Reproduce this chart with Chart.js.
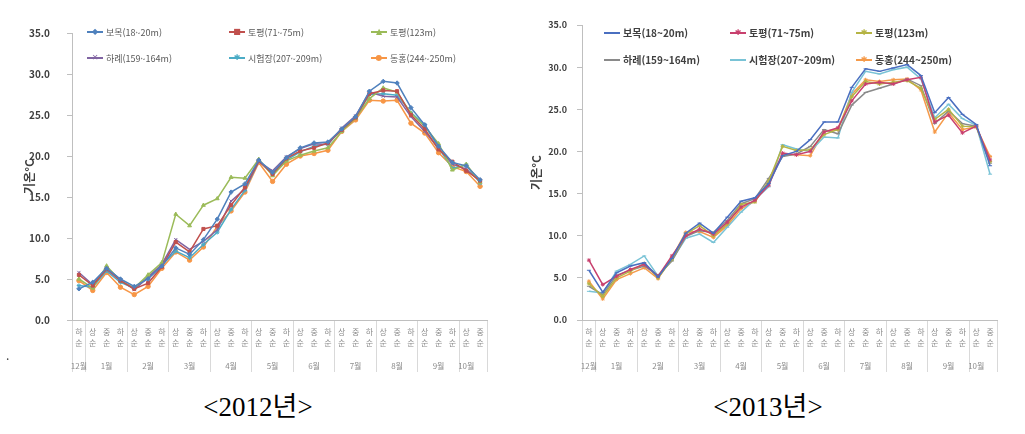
<!DOCTYPE html>
<html lang="ko">
<head>
<meta charset="utf-8">
<title>기온 2012 / 2013</title>
<script src="https://cdn.jsdelivr.net/npm/chart.js@4.4.1/dist/chart.umd.min.js"></script>
<style>
  body { margin: 0; width: 1025px; height: 434px; background: #fff; position: relative; overflow: hidden;
         font-family: "Noto Sans CJK KR", "Noto Sans", sans-serif; }
  .wrap { position: absolute; top: 0; width: 500px; height: 380px; }
  .legend { position: absolute; display: grid; white-space: nowrap; }
  .item { display: flex; align-items: center; }
  .sw { position: relative; display: inline-block; width: 16px; height: 10px; margin-right: 3px; }
  .sw::before { content: ''; position: absolute; left: 0; right: 0; top: 4px; height: 2px; background: var(--c); }
  .sw em { position: absolute; left: 0; right: 0; top: 0; text-align: center; font-style: normal;
           font-size: 8px; line-height: 10px; color: var(--c); font-family: "DejaVu Sans", sans-serif; }
  .caption { position: absolute; top: 392px; width: 200px; text-align: center; font-size: 27px; line-height: 30px;
             font-family: "Liberation Serif", "Noto Sans CJK KR", serif; color: #000; }
  .dot { position: absolute; left: 6px; top: 346px; font-size: 12px; color: #333; }
</style>
</head>
<body>
<div class="wrap" style="left:0"><canvas id="c2012" width="500" height="380"></canvas></div>
<div class="wrap" style="left:510px"><canvas id="c2013" width="500" height="380"></canvas></div>
<div class="legend" id="leg2012" style="left:87px; top:19px; grid-template-columns: repeat(3, 142px); grid-auto-rows: 26px; font-size: 9px; color: #595959;"></div>
<div class="legend" id="leg2013" style="left:604px; top:19px; grid-template-columns: repeat(3, 126px); grid-auto-rows: 27px; font-size: 10px; font-weight: bold; color: #404040;"></div>
<div class="caption" style="left:158px">&lt;2012년&gt;</div>
<div class="caption" style="left:668px">&lt;2013년&gt;</div>
<div class="dot">.</div>
<script>
// 순별 구분 (12월 하순 ~ 10월 중순)
const dekads = ['하순',
  '상순', '중순', '하순', '상순', '중순', '하순', '상순', '중순', '하순',
  '상순', '중순', '하순', '상순', '중순', '하순', '상순', '중순', '하순',
  '상순', '중순', '하순', '상순', '중순', '하순', '상순', '중순', '하순',
  '상순', '중순'];
const months = ['12월', '1월', '2월', '3월', '4월', '5월', '6월', '7월', '8월', '9월', '10월'];
const monthSpans = [1, 3, 3, 3, 3, 3, 3, 3, 3, 3, 2];

const stations2012 = ['보목(18~20m)', '토평(71~75m)', '토평(123m)', '하례(159~164m)', '시험장(207~209m)', '동홍(244~250m)'];
const stations2013 = ['보목(18~20m)', '토평(71~75m)', '토평(123m)', '하례(159~164m)', '시험장(207~209m)', '동홍(244~250m)'];

// 2012년 기온 (°C)
const bomok12    = [3.8, 4.6, 6.3, 5.0, 4.1, 5.0, 6.6, 8.8, 8.0, 9.8, 12.3, 15.6, 16.6, 19.5, 18.0, 19.8, 21.0, 21.6, 21.7, 23.3, 24.8, 27.9, 29.1, 28.9, 25.9, 23.8, 21.2, 19.2, 18.8, 17.1];
const tp71_12    = [5.5, 4.2, 6.2, 4.8, 3.8, 4.5, 6.5, 9.5, 8.3, 11.1, 11.5, 14.0, 16.2, 19.4, 17.8, 19.7, 20.6, 21.0, 21.6, 23.2, 24.7, 27.6, 28.0, 27.9, 25.0, 23.3, 20.8, 19.3, 18.2, 17.0];
const tp123_12   = [5.0, 3.9, 6.6, 4.8, 3.9, 5.5, 7.0, 12.9, 11.5, 14.0, 14.8, 17.4, 17.3, 19.6, 17.6, 19.4, 20.1, 20.6, 21.0, 23.0, 24.6, 27.0, 28.3, 27.8, 25.2, 23.6, 21.5, 18.3, 19.0, 16.8];
const harye12    = [5.8, 4.3, 6.4, 4.9, 3.7, 5.2, 6.8, 9.8, 8.6, 9.6, 11.0, 14.5, 16.0, 19.3, 18.2, 19.9, 20.9, 21.5, 21.4, 23.4, 24.9, 27.8, 27.3, 27.2, 24.8, 23.0, 20.9, 19.0, 18.4, 16.9];
const sihum12    = [4.2, 4.0, 6.0, 4.6, 3.9, 5.2, 6.7, 8.4, 7.6, 9.2, 10.7, 13.5, 15.8, 19.4, 17.8, 19.5, 20.5, 21.2, 21.5, 23.2, 24.7, 27.5, 27.6, 27.4, 25.3, 23.8, 21.0, 18.5, 18.9, 16.7];
const donghong12 = [4.8, 3.6, 5.8, 4.0, 3.1, 4.1, 6.3, 8.3, 7.3, 8.9, 11.4, 13.3, 15.6, 19.2, 16.9, 19.0, 20.0, 20.3, 20.7, 23.0, 24.4, 26.8, 26.7, 26.8, 24.0, 22.8, 20.4, 18.7, 18.1, 16.3];

// 2013년 기온 (°C)
const bomok13    = [5.9, 3.3, 5.6, 6.4, 6.8, 5.1, 7.3, 10.3, 11.5, 10.3, 12.2, 14.1, 14.5, 16.2, 19.5, 20.0, 21.4, 23.5, 23.5, 27.6, 29.8, 29.5, 29.9, 30.3, 29.0, 24.6, 26.4, 24.4, 23.2, 18.3];
const tp71_13    = [7.1, 4.2, 5.2, 6.0, 6.6, 5.2, 7.6, 10.0, 10.8, 10.2, 11.6, 13.4, 14.2, 16.0, 19.8, 19.6, 20.0, 22.3, 22.8, 26.0, 28.0, 28.2, 28.0, 28.5, 28.8, 23.5, 24.3, 22.2, 23.0, 19.0];
const tp123_13   = [4.3, 2.8, 5.0, 5.8, 6.7, 5.0, 7.2, 10.2, 11.2, 10.0, 11.4, 13.7, 14.0, 16.5, 20.6, 20.1, 20.2, 22.0, 22.6, 26.5, 28.3, 28.0, 28.2, 28.4, 27.5, 23.8, 25.0, 23.0, 22.9, 18.8];
const harye13    = [4.0, 3.0, 5.3, 5.9, 6.4, 5.3, 7.0, 9.9, 10.6, 10.4, 11.8, 13.8, 14.4, 16.8, 19.4, 19.7, 20.6, 22.6, 22.1, 25.5, 27.0, 27.5, 28.0, 28.6, 27.8, 23.3, 24.8, 23.3, 23.0, 18.6];
const sihum13    = [3.4, 3.2, 5.8, 6.6, 7.6, 5.2, 7.1, 9.7, 10.2, 9.2, 11.0, 12.8, 14.3, 15.8, 20.8, 20.3, 20.0, 21.7, 21.6, 27.0, 29.5, 29.2, 29.7, 30.0, 28.6, 24.0, 25.6, 23.9, 23.1, 17.3];
const donghong13 = [4.6, 2.5, 4.8, 5.5, 6.2, 4.9, 7.4, 10.4, 10.5, 9.8, 11.2, 13.2, 14.1, 16.4, 19.6, 19.6, 19.5, 22.4, 22.6, 26.8, 28.5, 28.3, 28.5, 28.6, 27.3, 22.3, 24.6, 22.6, 22.9, 19.4];

const yMin = 0, yMax = 35, yStep = 5;

const colors2012 = ['#4F81BD', '#C0504D', '#9BBB59', '#8064A2', '#4BACC6', '#F79646'];
const colors2013 = ['#4A6FC0', '#C8406E', '#B5B445', '#8A8A8A', '#79C3D6', '#F59A4A'];

// 축 라벨 만들기
const seasonLabels = dekads.map(d => d.split(''));
const monthTicks = dekads.map(() => '');
const boundaries = new Set();
let acc = 0;
monthSpans.forEach((n, i) => {
    boundaries.add(acc);
    monthTicks[acc + Math.floor((n - 1) / 2)] = months[i];
    acc += n;
});
boundaries.add(acc);

Chart.defaults.font.family = '"Noto Sans CJK KR", "Noto Sans", sans-serif';

function makeChart(id, series, names, colors, styles, cfg) {
    new Chart(document.getElementById(id), {
        type: 'line',
        data: {
            labels: seasonLabels,
            datasets: series.map((s, i) => ({
                label: names[i],
                data: s,
                borderColor: colors[i],
                backgroundColor: colors[i],
                borderWidth: cfg.lineWidth,
                pointStyle: styles[i],
                pointRadius: cfg.pointRadius,
                pointBorderWidth: 1,
                tension: 0,
            }))
        },
        options: {
            responsive: false,
            animation: false,
            layout: { padding: { top: cfg.top, right: 13, bottom: 6, left: 0 } },
            plugins: { legend: { display: false }, tooltip: { enabled: false } },
            scales: {
                x: {
                    offset: true,
                    border: { color: '#bfbfbf' },
                    grid: {
                        drawOnChartArea: false,
                        offset: true,
                        tickLength: 52,
                        color: ctx => (ctx.tick === undefined || boundaries.has(ctx.index)) ? '#d9d9d9' : 'rgba(0,0,0,0)',
                    },
                    ticks: { autoSkip: false, maxRotation: 0, padding: -46, color: '#8c8c8c', font: { size: 8, lineHeight: 1.4 } },
                    afterFit: s => { s.height = 34; }
                },
                xm: {
                    type: 'category',
                    position: 'bottom',
                    weight: 1,
                    labels: monthTicks,
                    offset: true,
                    grid: { display: false, drawTicks: false },
                    border: { display: false },
                    ticks: { autoSkip: false, maxRotation: 0, padding: 7, color: '#8c8c8c', font: { size: 8 } },
                    afterFit: s => { s.height = 20; }
                },
                y: {
                    min: yMin,
                    max: yMax,
                    border: { color: '#bfbfbf' },
                    grid: { drawOnChartArea: false, tickLength: 5, color: '#bfbfbf' },
                    ticks: {
                        stepSize: yStep,
                        padding: cfg.tickPad,
                        color: '#404040',
                        font: { size: cfg.tickSize, weight: 'bold' },
                        callback: v => v.toFixed(1)
                    },
                    title: {
                        display: true,
                        text: '기온°C',
                        color: '#404040',
                        padding: { top: cfg.titlePad },
                        font: { size: 12, weight: 'bold' }
                    },
                    afterFit: s => { s.width = 72; }
                }
            }
        }
    });
}

function buildLegend(elId, names, colors, marks) {
    const el = document.getElementById(elId);
    names.forEach((name, i) => {
        const item = document.createElement('div');
        item.className = 'item';
        item.innerHTML = `<span class="sw" style="--c:${colors[i]}"><em>${marks[i]}</em></span>${name}`;
        el.appendChild(item);
    });
}

makeChart('c2012',
    [bomok12, tp71_12, tp123_12, harye12, sihum12, donghong12],
    stations2012, colors2012,
    ['rectRot', 'rect', 'triangle', 'crossRot', 'star', 'circle'],
    { top: 33, tickPad: 17, tickSize: 10, titlePad: 22, lineWidth: 1.5, pointRadius: 2.2 });

makeChart('c2013',
    [bomok13, tp71_13, tp123_13, harye13, sihum13, donghong13],
    stations2013, colors2013,
    ['line', 'star', 'star', 'line', 'line', 'star'],
    { top: 25, tickPad: 10, tickSize: 9, titlePad: 19, lineWidth: 1.5, pointRadius: 2 });

buildLegend('leg2012', stations2012, colors2012, ['◆', '■', '▲', '✕', '✱', '●']);
buildLegend('leg2013', stations2013, colors2013, ['', '✱', '✱', '', '', '✱']);
</script>
</body>
</html>
